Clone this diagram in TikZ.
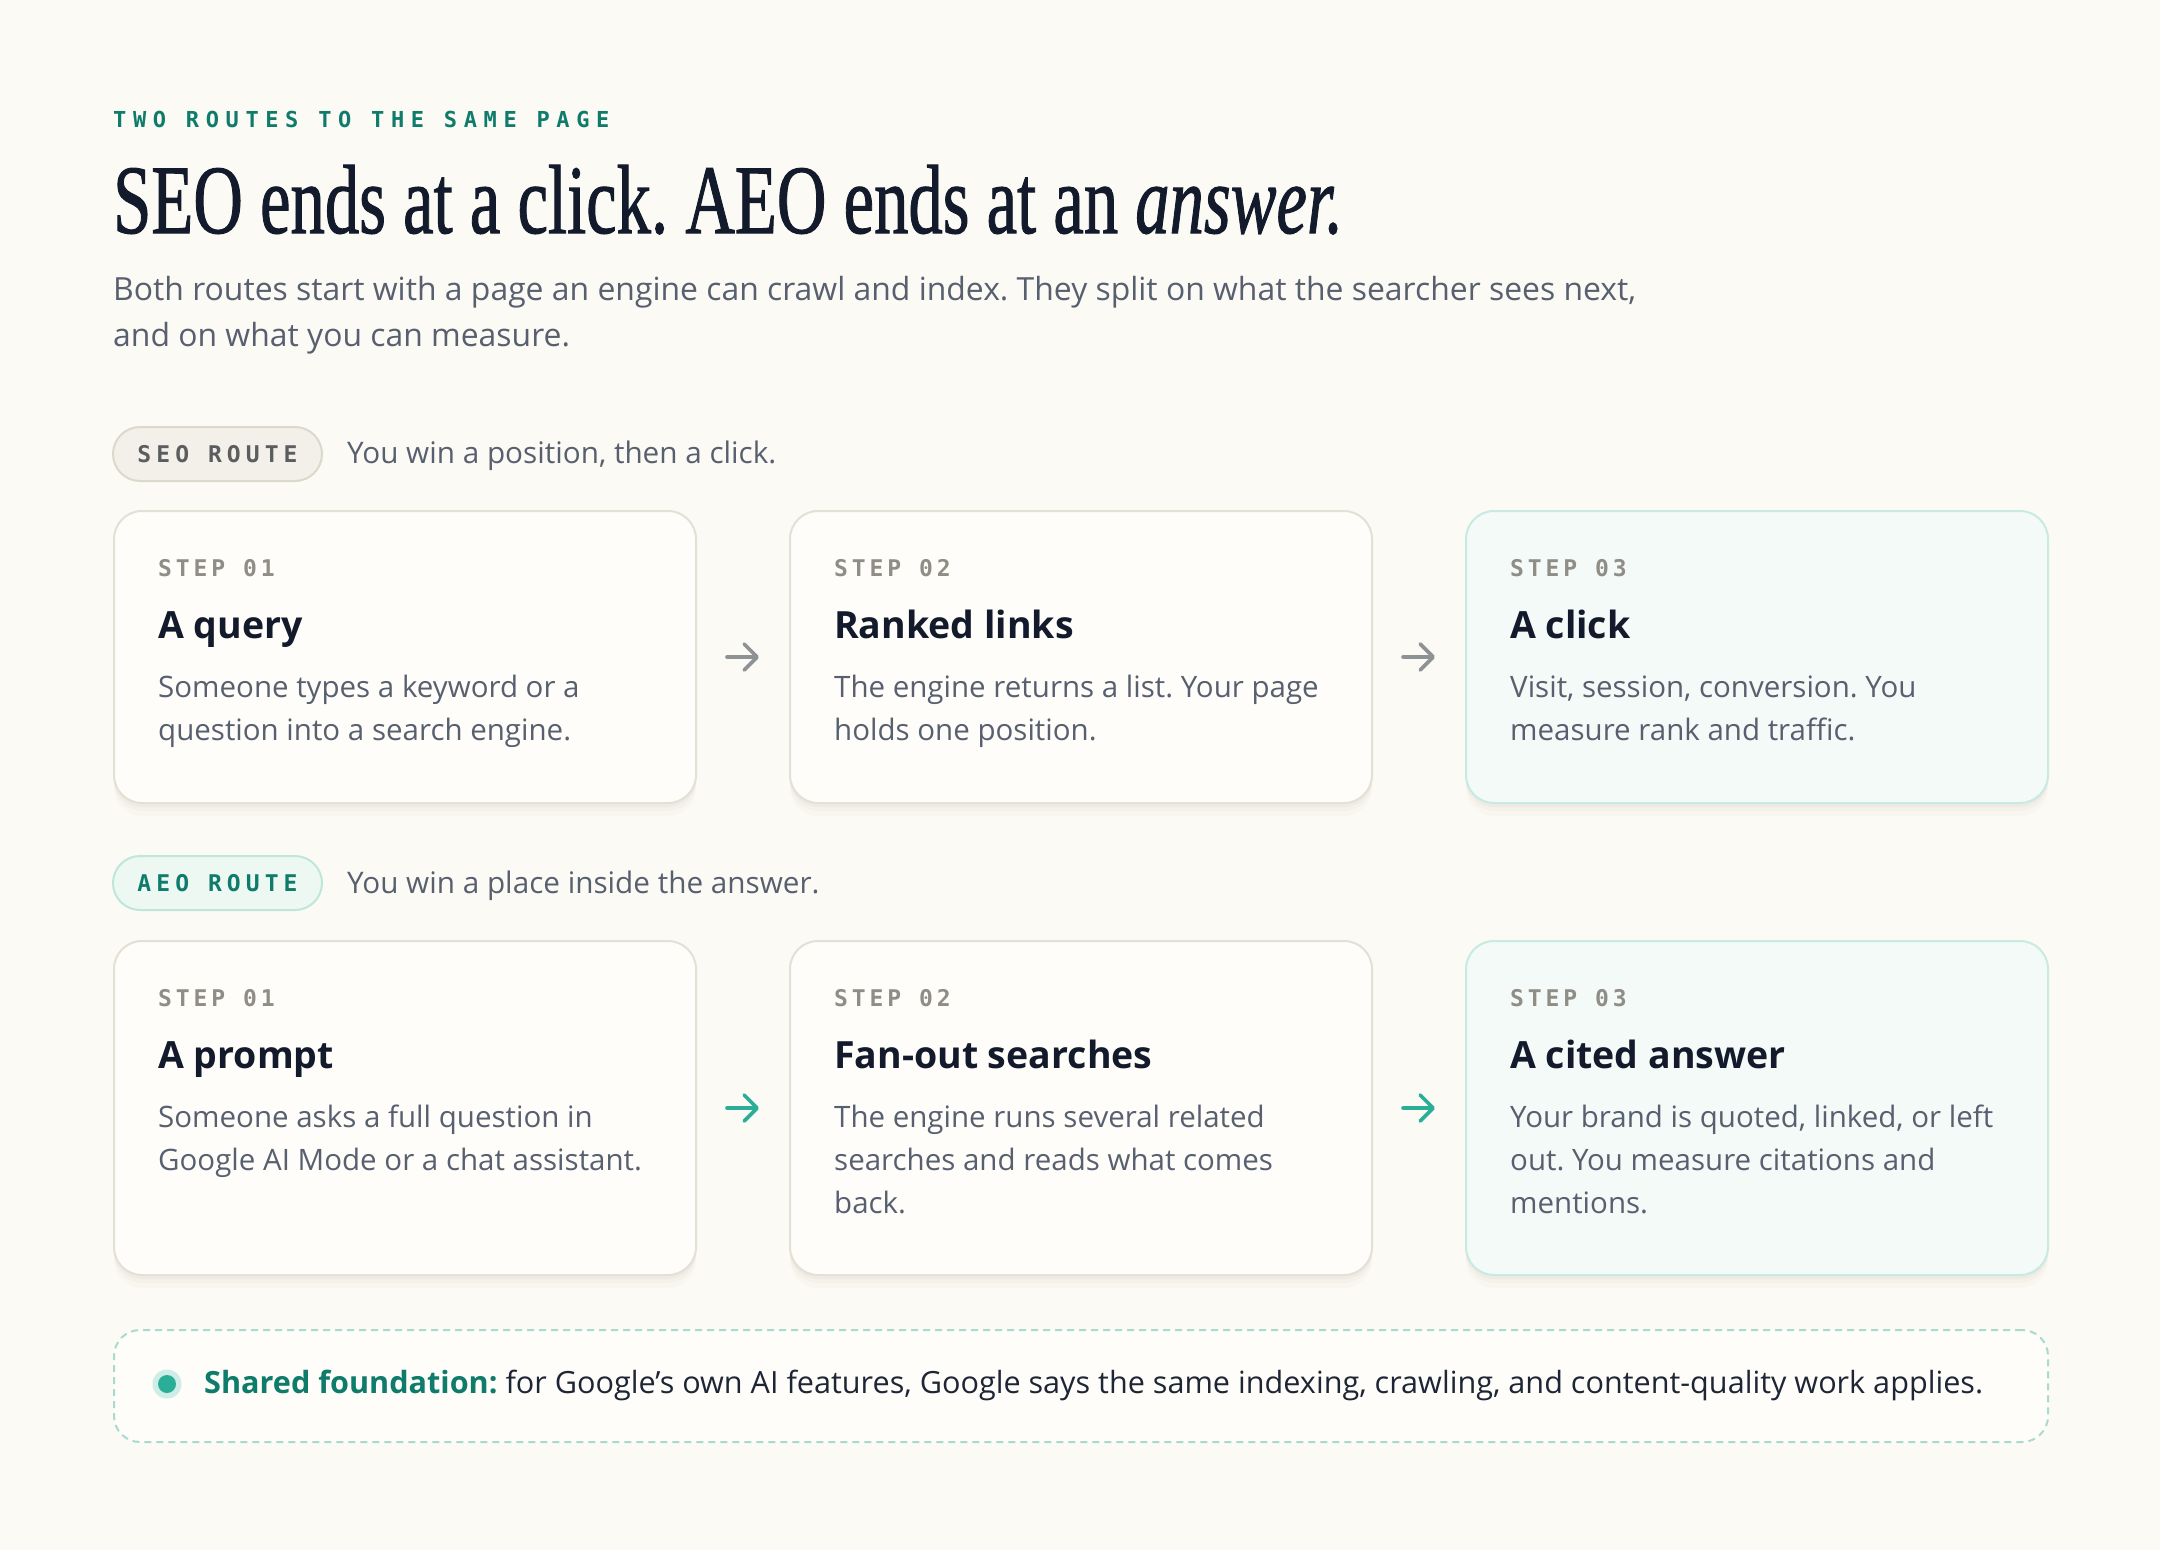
\documentclass[tikz,border=0pt]{standalone}
\usepackage{fontspec}
\usepackage{graphicx}
\usetikzlibrary{arrows.meta}
\setmainfont{Open Sans}
\newfontfamily\titlefont[FakeBold=1.2]{Liberation Serif}
\newfontfamily\eyefont[LetterSpace=30]{DejaVu Sans Mono Bold}
\newfontfamily\pillfont[LetterSpace=22]{DejaVu Sans Mono Bold}
\newfontfamily\stepfont[LetterSpace=17]{DejaVu Sans Mono Bold}
\definecolor{bg}{HTML}{FCFAF4}
\definecolor{tealc}{HTML}{0E7B6B}
\definecolor{ink}{HTML}{131A2B}
\definecolor{bodygray}{HTML}{586070}
\definecolor{cardfill}{HTML}{FEFDF9}
\definecolor{cardline}{HTML}{E4E0D5}
\definecolor{hifill}{HTML}{F3FAF7}
\definecolor{hiline}{HTML}{C8EAE1}
\definecolor{stepgray}{HTML}{908D87}
\definecolor{seopfill}{HTML}{F2F0E9}
\definecolor{seopline}{HTML}{DCD8CC}
\definecolor{seoptext}{HTML}{5B5D60}
\definecolor{aeopfill}{HTML}{EDF8F3}
\definecolor{aeopline}{HTML}{BFE6DA}
\definecolor{grayarrow}{HTML}{8E9295}
\definecolor{tealarrow}{HTML}{2AAE97}
\definecolor{dashc}{HTML}{A8DBD0}
\definecolor{dothalo}{HTML}{CDEDE6}
\definecolor{foundtext}{HTML}{1E2636}
\definecolor{shadowc}{HTML}{8A8070}
\tikzset{
  card/.style={draw=cardline, fill=cardfill, line width=2pt, rounded corners=28pt,
    minimum width=582pt, anchor=north west, inner sep=0pt,
    preaction={draw=none, fill=shadowc, fill opacity=0.03, transform canvas={yshift=-13pt}},
    preaction={draw=none, fill=shadowc, fill opacity=0.04, transform canvas={yshift=-8pt}},
    preaction={draw=none, fill=shadowc, fill opacity=0.05, transform canvas={yshift=-4pt}}},
  hicard/.style={card, draw=hiline, fill=hifill},
  pill/.style={line width=2pt, rounded corners=27pt, minimum width=209pt, minimum height=54pt,
    inner sep=0pt, font=\pillfont\fontsize{23}{23}\selectfont},
  steplbl/.style={anchor=base west, inner sep=0pt, text=stepgray, font=\stepfont\fontsize{23}{23}\selectfont},
  headtxt/.style={anchor=base west, inner sep=0pt, text=ink, font=\bfseries\fontsize{37.5}{40}\selectfont},
  bodytxt/.style={anchor=base west, inner sep=0pt, text=bodygray, font=\fontsize{29.5}{43}\selectfont},
  leadtxt/.style={anchor=base west, inner sep=0pt, text=bodygray, font=\fontsize{29.7}{40}\selectfont},
  seoarrow/.style={draw=grayarrow, line width=3.6pt, line cap=round,
    -{Straight Barb[length=13pt, width=26pt, line cap=round, line join=round]},
    shorten <=30pt, shorten >=30pt},
  aeoarrow/.style={seoarrow, draw=tealarrow},
}
\newcommand{\bodylines}[1]{\parbox[t]{560pt}{\raggedright #1}}
\frenchspacing
\begin{document}
\frenchspacing
\begin{tikzpicture}[x=1pt, y=-1pt]
\useasboundingbox (0,0) rectangle (2160,1550);
\fill[bg] (0,0) rectangle (2160,1550);

% header
\node[anchor=base west, inner sep=0pt, text=tealc, font=\eyefont\fontsize{22}{22}\selectfont]
  (eyebrow) at (113,127) {TWO ROUTES TO THE SAME PAGE};
\node[anchor=base west, inner sep=0pt, text=ink]
  (title) at (113,233) {\resizebox{1230pt}{\height}{\titlefont\fontsize{98}{100}\selectfont SEO ends at a click. AEO ends at an \textit{answer.}}};
\node[anchor=base west, inner sep=0pt, text=bodygray, font=\fontsize{31.9}{46}\selectfont]
  (sub1) at (113,300) {Both routes start with a page an engine can crawl and index. They split on what the searcher sees next,};
\node[anchor=base west, inner sep=0pt, text=bodygray, font=\fontsize{31.9}{46}\selectfont]
  (sub2) at (113,346) {and on what you can measure.};

% SEO route
\node[pill, draw=seopline, fill=seopfill, text=seoptext] (seopill) at (217.5,454) {SEO ROUTE};
\node[leadtxt] (seolead) at (347,463) {You win a position, then a click.};

\node[card, minimum height=292pt] (s1) at (113,510) {};
\node[card, minimum height=292pt] (s2) at (789,510) {};
\node[hicard, minimum height=292pt] (s3) at (1465,510) {};

\node[steplbl] (s1step) at ([shift={(45,66)}]s1.north west) {STEP 01};
\node[headtxt] (s1head) at ([shift={(45,128)}]s1.north west) {A query};
\node[bodytxt] (s1body) at ([shift={(45,187)}]s1.north west) {\bodylines{Someone types a keyword or a\\question into a search engine.}};

\node[steplbl] (s2step) at ([shift={(45,66)}]s2.north west) {STEP 02};
\node[headtxt] (s2head) at ([shift={(45,128)}]s2.north west) {Ranked links};
\node[bodytxt] (s2body) at ([shift={(45,187)}]s2.north west) {\bodylines{The engine returns a list. Your page\\holds one position.}};

\node[steplbl] (s3step) at ([shift={(45,66)}]s3.north west) {STEP 03};
\node[headtxt] (s3head) at ([shift={(45,128)}]s3.north west) {A click};
\node[bodytxt] (s3body) at ([shift={(45,187)}]s3.north west) {\bodylines{Visit, session, conversion. You\\measure rank and traffic.}};

\draw[seoarrow] (s1.east) -- (s2.west);
\draw[seoarrow] (s2.east) -- (s3.west);

% AEO route
\node[pill, draw=aeopline, fill=aeopfill, text=tealc] (aeopill) at (217.5,883) {AEO ROUTE};
\node[leadtxt] (aeolead) at (347,893) {You win a place inside the answer.};

\node[card, minimum height=334pt] (a1) at (113,940) {};
\node[card, minimum height=334pt] (a2) at (789,940) {};
\node[hicard, minimum height=334pt] (a3) at (1465,940) {};

\node[steplbl] (a1step) at ([shift={(45,66)}]a1.north west) {STEP 01};
\node[headtxt] (a1head) at ([shift={(45,128)}]a1.north west) {A prompt};
\node[bodytxt] (a1body) at ([shift={(45,187)}]a1.north west) {\bodylines{Someone asks a full question in\\Google AI Mode or a chat assistant.}};

\node[steplbl] (a2step) at ([shift={(45,66)}]a2.north west) {STEP 02};
\node[headtxt] (a2head) at ([shift={(45,128)}]a2.north west) {Fan-out searches};
\node[bodytxt] (a2body) at ([shift={(45,187)}]a2.north west) {\bodylines{The engine runs several related\\searches and reads what comes\\back.}};

\node[steplbl] (a3step) at ([shift={(45,66)}]a3.north west) {STEP 03};
\node[headtxt] (a3head) at ([shift={(45,128)}]a3.north west) {A cited answer};
\node[bodytxt] (a3body) at ([shift={(45,187)}]a3.north west) {\bodylines{Your brand is quoted, linked, or left\\out. You measure citations and\\mentions.}};

\draw[aeoarrow] (a1.east) -- (a2.west);
\draw[aeoarrow] (a2.east) -- (a3.west);

% shared foundation
\node[draw=dashc, line width=2pt, dash pattern=on 7pt off 5pt, rounded corners=26pt,
  fill=cardfill, minimum width=1934pt, minimum height=112pt, anchor=north west, inner sep=0pt]
  (fbox) at (113,1329) {};
\node[circle, fill=dothalo, minimum size=29pt, inner sep=0pt] (halo) at (167,1384) {};
\node[circle, fill=tealarrow, minimum size=18pt, inner sep=0pt] (dot) at (halo.center) {};
\node[anchor=base west, inner sep=0pt, text=foundtext, font=\fontsize{30.6}{40}\selectfont]
  (ftext) at (204,1393) {{\bfseries\color{tealc}Shared foundation:} for Google's own AI features, Google says the same indexing, crawling, and content-quality work applies.};
\end{tikzpicture}
\end{document}
